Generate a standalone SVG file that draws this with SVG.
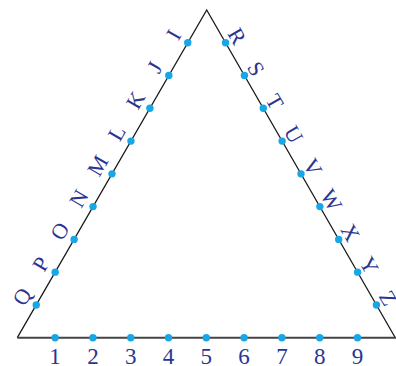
<svg xmlns="http://www.w3.org/2000/svg" width="396" height="366" viewBox="0 0 396 366">
<style>
.side{fill:none;stroke:#1a1a1a;stroke-width:1.3}
.base{fill:none;stroke:#444;stroke-width:2}
.dot{fill:#17a6e6}
.lbl{font-family:"Liberation Serif","Times New Roman",serif;font-size:22px;fill:#2b3590;text-anchor:middle}
.num{font-family:"Liberation Serif","Times New Roman",serif;font-size:23px;fill:#2b3590;text-anchor:middle}
</style>
<rect width="396" height="366" fill="#fff"/>
<g id="edges">
<polyline class="side" points="17.3,337.7 206.7,10 395.3,337.7"/>
<line class="base" x1="17.3" y1="337.7" x2="396" y2="337.7"/>
</g>
<g id="left">
<g id="pt-Q" transform="translate(36.24,304.93)"><circle class="dot" r="3.7"/><text class="lbl" transform="rotate(-60)" y="-9">Q</text></g>
<g id="pt-P" transform="translate(55.18,272.16)"><circle class="dot" r="3.7"/><text class="lbl" transform="rotate(-60)" y="-9">P</text></g>
<g id="pt-O" transform="translate(74.12,239.39)"><circle class="dot" r="3.7"/><text class="lbl" transform="rotate(-60)" y="-9">O</text></g>
<g id="pt-N" transform="translate(93.06,206.62)"><circle class="dot" r="3.7"/><text class="lbl" transform="rotate(-60)" y="-9">N</text></g>
<g id="pt-M" transform="translate(112,173.85)"><circle class="dot" r="3.7"/><text class="lbl" transform="rotate(-60)" y="-9">M</text></g>
<g id="pt-L" transform="translate(130.94,141.08)"><circle class="dot" r="3.7"/><text class="lbl" transform="rotate(-60)" y="-9">L</text></g>
<g id="pt-K" transform="translate(149.88,108.31)"><circle class="dot" r="3.7"/><text class="lbl" transform="rotate(-60)" y="-9">K</text></g>
<g id="pt-J" transform="translate(168.82,75.54)"><circle class="dot" r="3.7"/><text class="lbl" transform="rotate(-60)" y="-9">J</text></g>
<g id="pt-I" transform="translate(187.76,42.77)"><circle class="dot" r="3.7"/><text class="lbl" transform="rotate(-60)" y="-9">I</text></g>
</g>
<g id="right">
<g id="pt-R" transform="translate(225.56,42.77)"><circle class="dot" r="3.7"/><text class="lbl" transform="rotate(60)" y="-6">R</text></g>
<g id="pt-S" transform="translate(244.42,75.54)"><circle class="dot" r="3.7"/><text class="lbl" transform="rotate(60)" y="-6">S</text></g>
<g id="pt-T" transform="translate(263.28,108.31)"><circle class="dot" r="3.7"/><text class="lbl" transform="rotate(60)" y="-6">T</text></g>
<g id="pt-U" transform="translate(282.14,141.08)"><circle class="dot" r="3.7"/><text class="lbl" transform="rotate(60)" y="-6">U</text></g>
<g id="pt-V" transform="translate(301,173.85)"><circle class="dot" r="3.7"/><text class="lbl" transform="rotate(60)" y="-6">V</text></g>
<g id="pt-W" transform="translate(319.86,206.62)"><circle class="dot" r="3.7"/><text class="lbl" transform="rotate(60)" y="-6">W</text></g>
<g id="pt-X" transform="translate(338.72,239.39)"><circle class="dot" r="3.7"/><text class="lbl" transform="rotate(60)" y="-6">X</text></g>
<g id="pt-Y" transform="translate(357.58,272.16)"><circle class="dot" r="3.7"/><text class="lbl" transform="rotate(60)" y="-6">Y</text></g>
<g id="pt-Z" transform="translate(376.44,304.93)"><circle class="dot" r="3.7"/><text class="lbl" transform="rotate(60)" y="-6">Z</text></g>
</g>
<g id="bottom">
<g id="pt-1" transform="translate(55.1,337.7)"><circle class="dot" r="3.7"/><text class="num" y="26">1</text></g>
<g id="pt-2" transform="translate(92.9,337.7)"><circle class="dot" r="3.7"/><text class="num" y="26">2</text></g>
<g id="pt-3" transform="translate(130.7,337.7)"><circle class="dot" r="3.7"/><text class="num" y="26">3</text></g>
<g id="pt-4" transform="translate(168.5,337.7)"><circle class="dot" r="3.7"/><text class="num" y="26">4</text></g>
<g id="pt-5" transform="translate(206.3,337.7)"><circle class="dot" r="3.7"/><text class="num" y="26">5</text></g>
<g id="pt-6" transform="translate(244.1,337.7)"><circle class="dot" r="3.7"/><text class="num" y="26">6</text></g>
<g id="pt-7" transform="translate(281.9,337.7)"><circle class="dot" r="3.7"/><text class="num" y="26">7</text></g>
<g id="pt-8" transform="translate(319.7,337.7)"><circle class="dot" r="3.7"/><text class="num" y="26">8</text></g>
<g id="pt-9" transform="translate(357.5,337.7)"><circle class="dot" r="3.7"/><text class="num" y="26">9</text></g>
</g>
</svg>
